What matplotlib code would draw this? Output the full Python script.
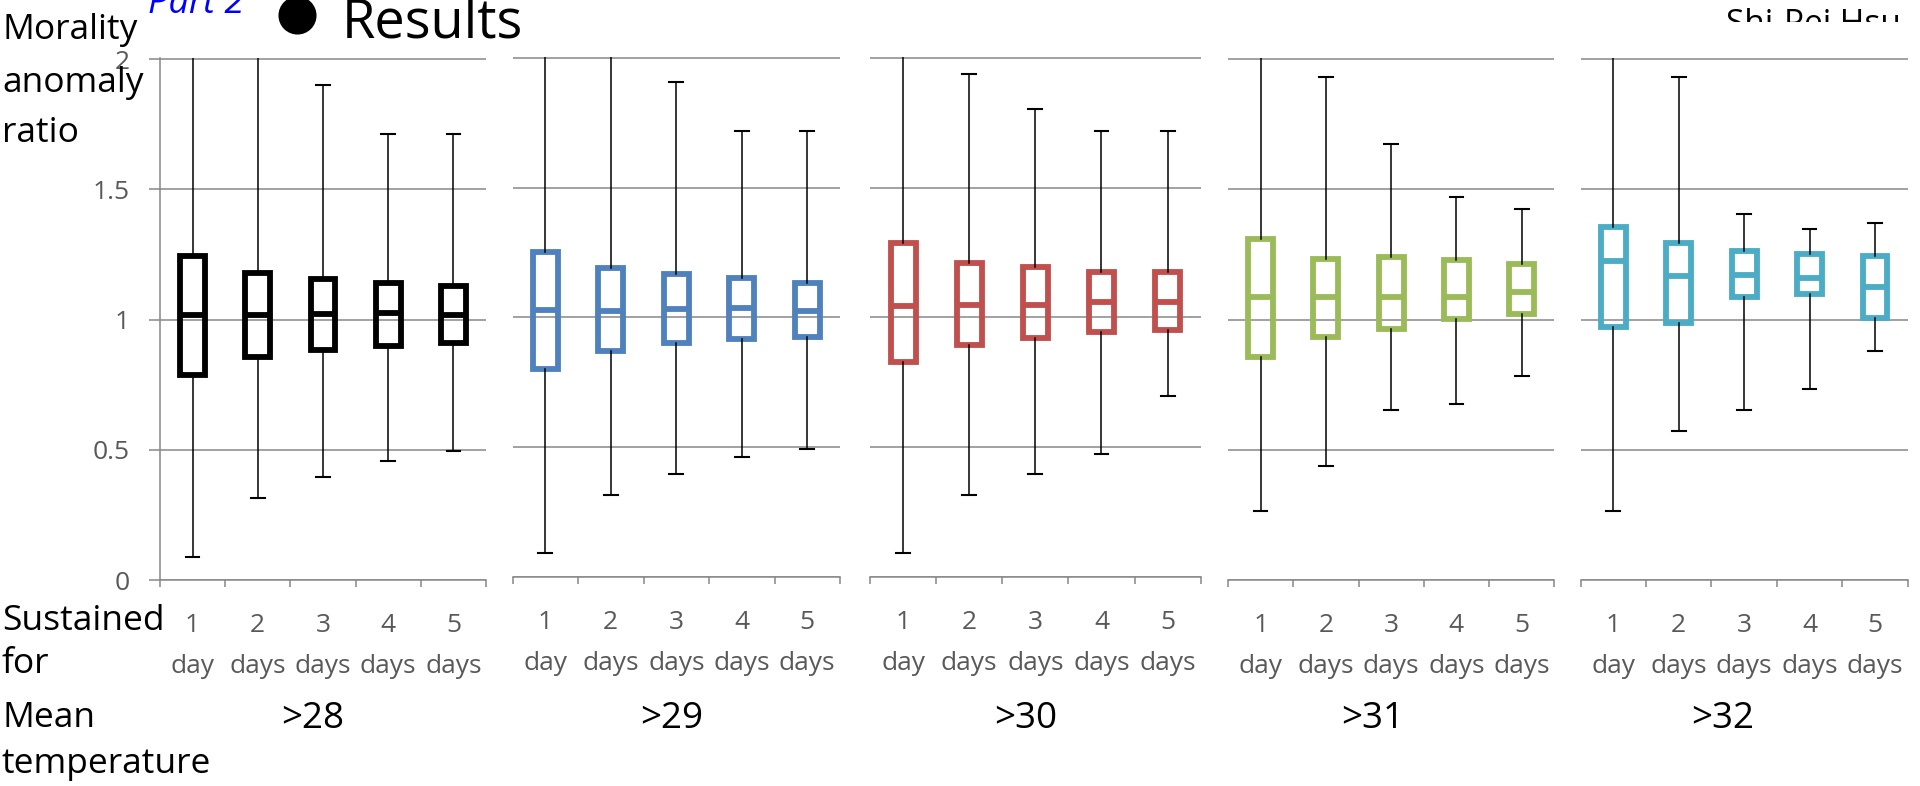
import matplotlib
matplotlib.use("Agg")
import matplotlib.pyplot as plt
from matplotlib.lines import Line2D
from matplotlib.transforms import Bbox, TransformedBbox

plt.rcParams['font.family'] = ['Open Sans', 'DejaVu Sans']

# ---- data -------------------------------------------------------------
thresholds = ['>28', '>29', '>30', '>31', '>32']
durations = ['1\nday', '2\ndays', '3\ndays', '4\ndays', '5\ndays']
panel_colors = ['#000000', '#4f81bd', '#c0504d', '#9bbb59', '#4bacc6']

# box statistics, one row per mean-temperature threshold, one column per duration
# (2.3 = whisker runs off the top of the axis)
whisker_low = [
    [0.087, 0.315, 0.396, 0.457, 0.494],
    [0.090, 0.314, 0.395, 0.462, 0.494],
    [0.090, 0.314, 0.395, 0.475, 0.695],
    [0.264, 0.437, 0.654, 0.674, 0.784],
    [0.264, 0.572, 0.653, 0.734, 0.881],
]
q1 = [
    [0.789, 0.858, 0.885, 0.898, 0.911],
    [0.801, 0.872, 0.900, 0.917, 0.923],
    [0.826, 0.894, 0.921, 0.945, 0.951],
    [0.857, 0.931, 0.964, 1.003, 1.022],
    [0.971, 0.987, 1.085, 1.096, 1.005],
]
median = [
    [1.019, 1.019, 1.022, 1.024, 1.018],
    [1.028, 1.026, 1.032, 1.035, 1.026],
    [1.045, 1.049, 1.048, 1.058, 1.058],
    [1.088, 1.088, 1.088, 1.088, 1.105],
    [1.224, 1.166, 1.172, 1.160, 1.126],
]
q3 = [
    [1.244, 1.181, 1.156, 1.141, 1.128],
    [1.253, 1.190, 1.167, 1.150, 1.133],
    [1.285, 1.209, 1.196, 1.175, 1.175],
    [1.309, 1.232, 1.239, 1.229, 1.213],
    [1.354, 1.292, 1.264, 1.252, 1.245],
]
whisker_high = [
    [2.3, 2.3, 1.903, 1.714, 1.714],
    [2.3, 2.3, 1.909, 1.718, 1.718],
    [2.3, 1.938, 1.805, 1.718, 1.718],
    [2.3, 1.931, 1.673, 1.472, 1.426],
    [2.3, 1.931, 1.405, 1.346, 1.370],
]
y_ticks = [0, 0.5, 1, 1.5, 2]
y_tick_labels = ['0', '0.5', '1', '1.5', '2']

# ---- layout (pixels of the 1920x786 canvas) ---------------------------
W, H = 1920, 786
panel_px = [(160, 486, 580, 58), (512.5, 840, 576.7, 56.7),
            (870, 1200.7, 576.7, 56.7), (1228, 1554.3, 580, 57.7),
            (1580.6, 1907.7, 580, 57.7)]
threshold_x = [313, 672, 1026, 1373, 1723]
grid_c = '#888888'
tick_c = '#595959'


def fx(px):
    return px / W


def fy(py):
    return 1 - py / H


fig = plt.figure(figsize=(19.2, 7.86), dpi=100)

for i, (x0, x1, yb, yt) in enumerate(panel_px):
    ax = fig.add_axes([fx(x0), fy(yb), (x1 - x0) / W, (yb - yt) / H])
    stats = [dict(whislo=whisker_low[i][j], q1=q1[i][j], med=median[i][j],
                  q3=q3[i][j], whishi=whisker_high[i][j]) for j in range(5)]
    col = panel_colors[i]
    ax.bxp(stats, positions=range(1, 6), widths=0.38, capwidths=0.21,
           showfliers=False, patch_artist=True, manage_ticks=False,
           boxprops=dict(facecolor='none', edgecolor=col, linewidth=4.2),
           medianprops=dict(color=col, linewidth=4.2, solid_capstyle='butt'),
           whiskerprops=dict(color='black', linewidth=1.1),
           capprops=dict(color='black', linewidth=1.5), zorder=3)

    ax.set_xlim(0.5, 5.5)
    ax.set_ylim(0, 2.005)
    ax.set_yticks(y_ticks, y_tick_labels)
    ax.yaxis.grid(True, color=grid_c, linewidth=1.1)
    ax.set_axisbelow(True)

    ax.set_xticks([k + 0.5 for k in range(6)], [''] * 6)
    ax.set_xticks(range(1, 6), durations, minor=True)
    ax.tick_params(axis='x', which='major', length=5, width=1.1,
                   color=grid_c, direction='out')
    ax.tick_params(axis='x', which='minor', length=0, pad=24,
                   labelsize=19, labelcolor=tick_c)
    for lab in ax.get_xticklabels(minor=True):
        lab.set_linespacing(1.85)

    for s in ('top', 'right'):
        ax.spines[s].set_visible(False)
    ax.spines['bottom'].set_color(grid_c)
    ax.spines['bottom'].set_linewidth(1.1)
    if i == 0:
        ax.spines['left'].set_color(grid_c)
        ax.spines['left'].set_linewidth(1.1)
        ax.tick_params(axis='y', length=8, width=1.1, color=grid_c, pad=14,
                       labelsize=19, labelcolor=tick_c)
    else:
        ax.spines['left'].set_visible(False)
        ax.tick_params(axis='y', length=0, labelleft=False)

    fig.text(fx(threshold_x[i]), fy(728), thresholds[i], ha='center',
             va='baseline', fontsize=26.5)

# side labels
for txt, yb in [('Morality', 39.3), ('anomaly', 91.7), ('ratio', 141.7),
                ('Sustained', 630), ('for', 673), ('Mean', 727),
                ('temperature', 773)]:
    fig.text(fx(2), fy(yb), txt, ha='left', va='baseline', fontsize=25.5)

# slide heading
fig.add_artist(Line2D([fx(296.7)], [fy(15)], marker='o', markersize=26.4,
                      color='black', transform=fig.transFigure))
fig.text(fx(342), fy(37.3), 'Results', ha='left', va='baseline', fontsize=39)
fig.text(fx(148), fy(12.7), 'Part 2', ha='left', va='baseline', fontsize=26,
         style='italic', color='#0000ff')
author = fig.text(fx(1726), fy(33), 'Shi-Pei Hsu', ha='left', va='baseline',
                  fontsize=24)
author.set_clip_box(TransformedBbox(Bbox([[0, fy(22)], [1, 1]]), fig.transFigure))
author.set_clip_on(True)

fig.savefig('out.png', dpi=100)
